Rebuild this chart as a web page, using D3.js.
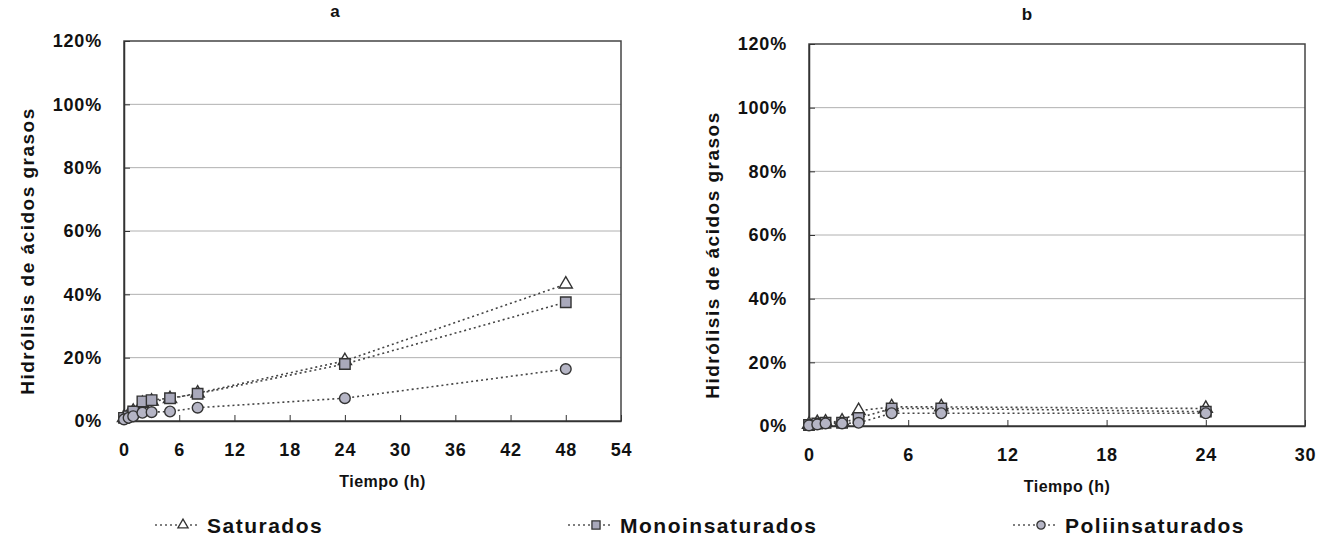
<!DOCTYPE html>
<html>
<head>
<script src="https://d3js.org/d3.v7.min.js"></script>
<style>
  body { margin: 0; background: #fff; }
  text { font-family: "Liberation Sans", Arial, sans-serif; font-weight: bold; fill: #111; }
</style>
</head>
<body>
<svg id="chart" width="1317" height="549"></svg>
<script>
// data
const seriesNames = ["Saturados", "Monoinsaturados", "Poliinsaturados"];
const yTicks = [0, 0.2, 0.4, 0.6, 0.8, 1.0, 1.2];

const timeA = [0, 0.5, 1, 2, 3, 5, 8, 24, 48];
const satA  = [0.010, 0.020, 0.030, 0.055, 0.062, 0.070, 0.088, 0.190, 0.432];
const monoA = [0.010, 0.015, 0.030, 0.062, 0.066, 0.072, 0.086, 0.180, 0.375];
const poliA = [0.005, 0.010, 0.015, 0.026, 0.028, 0.030, 0.042, 0.072, 0.164];
const xTicksA = [0, 6, 12, 18, 24, 30, 36, 42, 48, 54];

const timeB = [0, 0.5, 1, 2, 3, 5, 8, 24];
const satB  = [0.005, 0.010, 0.012, 0.015, 0.048, 0.060, 0.060, 0.055];
const monoB = [0.003, 0.008, 0.010, 0.010, 0.025, 0.055, 0.055, 0.045];
const poliB = [0.002, 0.005, 0.008, 0.008, 0.010, 0.040, 0.040, 0.040];
const xTicksB = [0, 6, 12, 18, 24, 30];

const svg = d3.select("#chart");
const symbols = [d3.symbolTriangle, d3.symbolSquare, d3.symbolCircle];
const fills = ["#ffffff", "#a9a9bb", "#b5b5c5"];
const sizes = [75, 110, 90];

function panel(opt) {
  const x = d3.scaleLinear().domain([0, opt.xmax]).range([opt.left, opt.right]);
  const y = d3.scaleLinear().domain([0, 1.2]).range([opt.bottom, opt.top]);
  const g = svg.append("g");

  // grid
  g.selectAll(".grid").data(yTicks.slice(1, -1)).enter().append("line")
    .attr("x1", opt.left).attr("x2", opt.right)
    .attr("y1", d => y(d)).attr("y2", d => y(d))
    .attr("stroke", "#b0b0b0").attr("stroke-width", 1);

  // frame
  g.append("rect")
    .attr("x", opt.left).attr("y", opt.top)
    .attr("width", opt.right - opt.left).attr("height", opt.bottom - opt.top)
    .attr("fill", "none").attr("stroke", "#444").attr("stroke-width", 1.5);

  const yAxis = d3.axisLeft(y).tickValues(yTicks).tickFormat(d3.format(".0%"))
    .tickSizeInner(-6).tickSizeOuter(0).tickPadding(22);
  g.append("g").attr("transform", `translate(${opt.left},0)`).call(yAxis)
    .call(a => a.select(".domain").attr("stroke", "#333").attr("stroke-width", 1.5))
    .call(a => a.selectAll("line").attr("stroke", "#333"))
    .call(a => a.selectAll("text").style("font-size", "18px").style("letter-spacing", "0.8px")
      .attr("fill", "#111"));

  const xAxis = d3.axisBottom(x).tickValues(opt.xticks)
    .tickSizeInner(-6).tickSizeOuter(0).tickPadding(22);
  g.append("g").attr("transform", `translate(0,${opt.bottom})`).call(xAxis)
    .call(a => a.select(".domain").attr("stroke", "#333").attr("stroke-width", 1.5))
    .call(a => a.selectAll("line").attr("stroke", "#333"))
    .call(a => a.selectAll("text").style("font-size", "18px").style("letter-spacing", "0.8px")
      .attr("fill", "#111"));

  // series
  const line = d3.line().x(d => x(d[0])).y(d => y(d[1]));
  opt.series.forEach((vals, i) => {
    const pts = opt.time.map((t, j) => [t, vals[j]]);
    g.append("path").datum(pts).attr("d", line)
      .attr("fill", "none").attr("stroke", "#444").attr("stroke-width", 1.6)
      .attr("stroke-dasharray", "2,3");
  });
  opt.series.forEach((vals, i) => {
    const pts = opt.time.map((t, j) => [t, vals[j]]);
    g.selectAll(null).data(pts).enter().append("path")
      .attr("d", d3.symbol().type(symbols[i]).size(sizes[i]))
      .attr("transform", d => `translate(${x(d[0])},${y(d[1])})`)
      .attr("fill", fills[i]).attr("stroke", "#333").attr("stroke-width", 1.4);
  });

  // titles
  svg.append("text").attr("x", opt.titleX).attr("y", opt.titleY)
    .attr("text-anchor", "middle").style("font-size", "17px").text(opt.title);
  svg.append("text").attr("x", (opt.left + opt.right) / 2 + 10).attr("y", opt.bottom + 66)
    .attr("text-anchor", "middle").style("font-size", "16px").style("letter-spacing", "0.5px")
    .text("Tiempo (h)");
  svg.append("text")
    .attr("transform", `translate(${opt.left - 90},${(opt.top + opt.bottom) / 2 + 20}) rotate(-90)`)
    .attr("text-anchor", "middle").style("font-size", "19px").style("letter-spacing", "1.5px")
    .text("Hidrólisis de ácidos grasos");
}

panel({ left: 124, right: 621, top: 41, bottom: 421, xmax: 54, xticks: xTicksA,
  time: timeA, series: [satA, monoA, poliA], title: "a", titleX: 335, titleY: 17 });
panel({ left: 809, right: 1305, top: 44, bottom: 426, xmax: 30, xticks: xTicksB,
  time: timeB, series: [satB, monoB, poliB], title: "b", titleX: 1027, titleY: 20 });

// legend
const legendX = [155, 568, 1013];
const lg = svg.append("g");
seriesNames.forEach((name, i) => {
  const lx = legendX[i], ly = 525;
  lg.append("line").attr("x1", lx).attr("x2", lx + 44).attr("y1", ly).attr("y2", ly)
    .attr("stroke", "#555").attr("stroke-width", 1.4).attr("stroke-dasharray", "2,3");
  lg.append("path").attr("d", d3.symbol().type(symbols[i]).size(sizes[i] * 0.6))
    .attr("transform", `translate(${lx + 28},${ly})`)
    .attr("fill", fills[i]).attr("stroke", "#333").attr("stroke-width", 1.3);
  lg.append("text").attr("x", lx + 52).attr("y", ly + 8)
    .style("font-size", "21px").style("letter-spacing", "1.5px").text(name);
});
</script>
</body>
</html>
